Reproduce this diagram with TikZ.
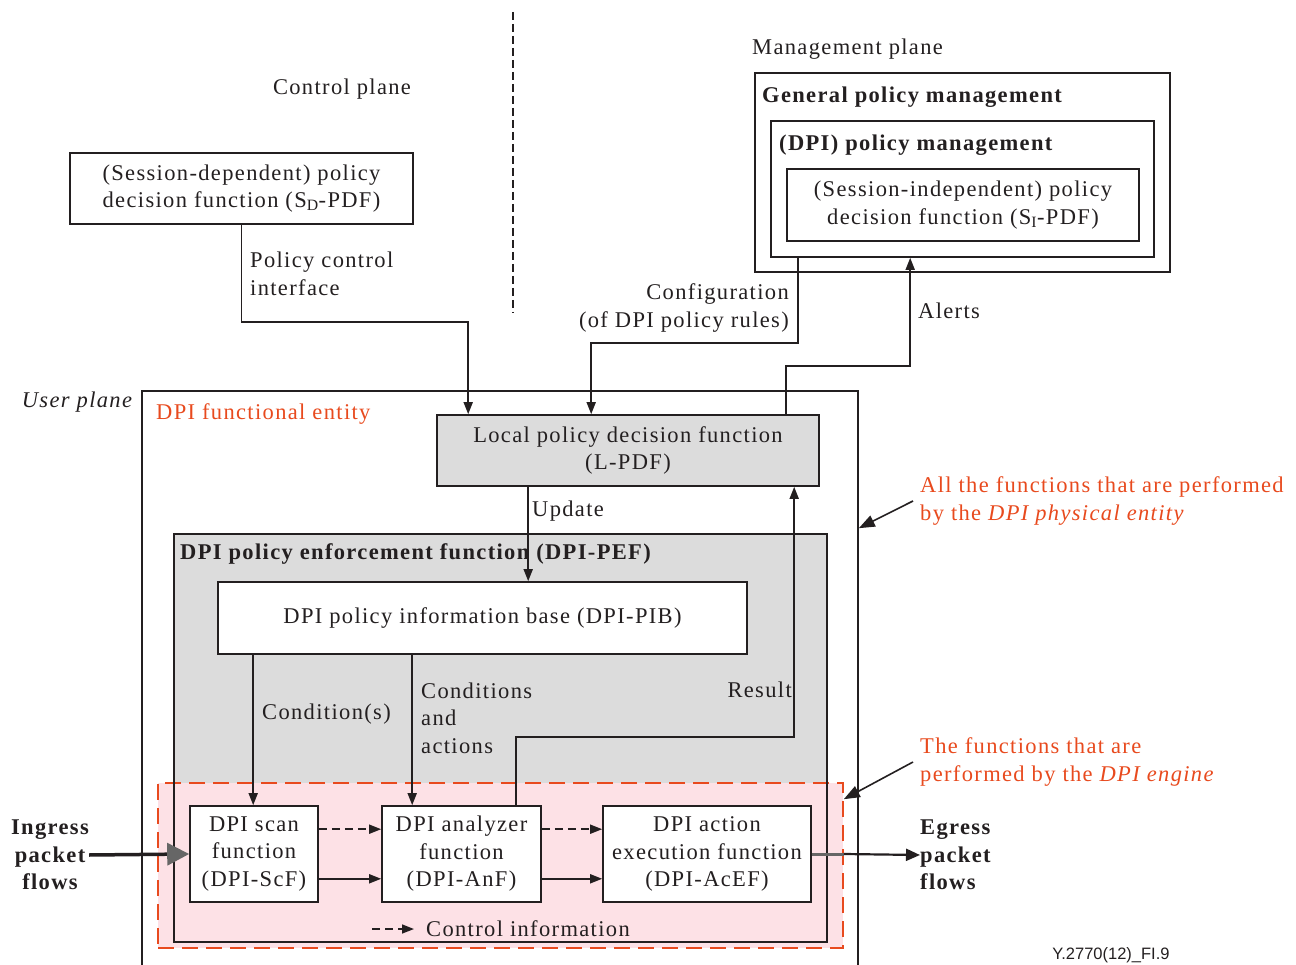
\documentclass[tikz,border=0pt]{standalone}
\usepackage{fontspec}
\setmainfont[LetterSpace=6]{Liberation Serif}
\setsansfont{Liberation Sans}
\usetikzlibrary{arrows.meta}
\definecolor{linecol}{HTML}{231F20}
\definecolor{itured}{HTML}{E84A1E}
\definecolor{boxgray}{HTML}{DCDCDC}
\definecolor{enginepink}{HTML}{FDE1E6}
\definecolor{arrgray}{HTML}{666666}
\newcommand{\dpisize}{\fontsize{22.5}{27.5}\selectfont}
\begin{document}
\begin{tikzpicture}[x=1pt,y=-1pt,
  font=\dpisize,
  every node/.style={inner sep=0pt, text=linecol},
  fnbox/.style={draw=linecol, line width=1.6pt, align=center},
  ttl/.style={font=\dpisize\bfseries},
  arr/.style={draw=linecol, line width=1.6pt, -{Triangle[length=12pt,width=9pt]}},
  notearr/.style={draw=linecol, line width=1.6pt, -{Triangle[length=16pt,width=12pt]}}]
\useasboundingbox (0,0) rectangle (1296,965);

% Control plane and management plane
\draw[linecol, line width=1.4pt, dash pattern=on 8pt off 4pt] (513,12) -- (513,313);
\node (ctrlplane) at (342,89) {Control plane};
\node[anchor=west] (mgmtplane) at (752,49) {Management plane};

\node[fnbox, minimum width=343pt, minimum height=71pt] (sdpdf) at (241.5,188.5)
  {(Session-dependent) policy\\decision function (S\textsubscript{D}-PDF)};

\node[fnbox, minimum width=415pt, minimum height=199pt] (gpm) at (962.5,172.5) {};
\node[ttl, anchor=west] (gpmtitle) at (762,97) {General policy management};
\node[fnbox, minimum width=383pt, minimum height=136pt] (dpipm) at (962.5,189) {};
\node[ttl, anchor=west] (dpipmtitle) at (779,145) {(DPI) policy management};
\node[fnbox, minimum width=352pt, minimum height=72pt] (sipdf) at (963,205)
  {(Session-independent) policy\\decision function (S\textsubscript{I}-PDF)};

% User plane: the DPI functional entity
\node[font=\dpisize\itshape] (userplane) at (77,402) {User plane};
\node[fnbox, minimum width=716pt, minimum height=609pt] (dpife) at (500,695.5) {};
\node[anchor=west, text=itured] (dpifetitle) at (156,414) {DPI functional entity};
\node[fnbox, fill=boxgray, minimum width=382pt, minimum height=71pt] (lpdf) at (628,450.5)
  {Local policy decision function\\(L-PDF)};

% Enforcement function with the DPI engine inside
\node[fill=boxgray, minimum width=653pt, minimum height=408pt] (peffill) at (500.5,738) {};
\node[draw=itured, line width=1.6pt, dash pattern=on 16pt off 8pt, fill=enginepink,
  minimum width=685pt, minimum height=165pt] (engine) at (500.5,865.5) {};
\node[fnbox, minimum width=653pt, minimum height=408pt] (pef) at (500.5,738) {};
\node[ttl, anchor=west] (peftitle) at (180,554) {DPI policy enforcement function (DPI-PEF)};
\node[fnbox, fill=white, minimum width=529pt, minimum height=72pt] (pib) at (482.5,618)
  {DPI policy information base (DPI-PIB)};

\node[fnbox, fill=white, minimum width=128pt, minimum height=96pt] (scf) at (254,854)
  {DPI scan\\function\\(DPI-ScF)};
\node[fnbox, fill=white, minimum width=159pt, minimum height=96pt] (anf) at (461.5,854)
  {DPI analyzer\\function\\(DPI-AnF)};
\node[fnbox, fill=white, minimum width=208pt, minimum height=96pt] (acef) at (707,854)
  {DPI action\\execution function\\(DPI-AcEF)};

% Interfaces between the planes
\draw[arr] (sdpdf.south) -- ++(0,97) -| ([xshift=32pt]lpdf.north west);
\node[anchor=west, align=left] (pcilabel) at (250,274) {Policy control\\interface};
\draw[arr] ([xshift=28pt]dpipm.south west) -- ++(0,85) -| ([xshift=155pt]lpdf.north west);
\node[anchor=east, align=right] (cfglabel) at (789,308) {Configuration\\(of DPI policy rules)};
\draw[arr] ([xshift=350pt]lpdf.north west) -- ++(0,-48) -| ([xshift=140pt]dpipm.south west);
\node[anchor=west] (alertlabel) at (918,311) {Alerts};

% Inside the functional entity
\draw[arr] ([xshift=92pt]lpdf.south west) -- ([xshift=311pt]pib.north west);
\node[anchor=west] (updlabel) at (532,511) {Update};
\draw[arr] ([xshift=36pt]pib.south west) -- ([xshift=64pt]scf.north west);
\node[anchor=west] (condlabel) at (262,714) {Condition(s)};
\draw[arr] ([xshift=195pt]pib.south west) -- ([xshift=31pt]anf.north west);
\node[anchor=west, align=left] (calabel) at (421,718) {Conditions\\and\\actions};
\draw[arr] ([xshift=135pt]anf.north west) -- ++(0,-68) -| ([xshift=358pt]lpdf.south west);
\node[anchor=east] (reslabel) at (792,690) {Result};

\draw[arr, dash pattern=on 8pt off 5pt] ([yshift=-24pt]scf.north east) -- ([yshift=-24pt]anf.north west);
\draw[arr] ([yshift=24pt]scf.south east) -- ([yshift=24pt]anf.south west);
\draw[arr, dash pattern=on 8pt off 5pt] ([yshift=-24pt]anf.north east) -- ([yshift=-24pt]acef.north west);
\draw[arr] ([yshift=24pt]anf.south east) -- ([yshift=24pt]acef.south west);

\node[anchor=west] (ctrlinfo) at (426,929) {Control information};
\draw[arr, dash pattern=on 8pt off 5pt] ([xshift=-54pt]ctrlinfo.west) -- ([xshift=-12pt]ctrlinfo.west);

% Packet flows
\node[ttl, align=center] (ingress) at (50,855) {Ingress\\packet\\flows};
\draw[linecol, line width=3.5pt, -{Triangle[length=22pt,width=22pt,color=arrgray]}] (ingress.east) -- (scf.west);
\node[ttl, anchor=west, align=left] (egress) at (920,855) {Egress\\packet\\flows};
\draw[arrgray, line width=3pt] (acef.east) -- (acef.east -| engine.east);
\draw[linecol, line width=2.2pt, -{Triangle[length=14pt,width=12pt]}] (acef.east -| engine.east) -- (egress.west);

% Notes
\node[anchor=west, align=left, text=itured] (physnote) at (920,501)
  {All the functions that are performed\\by the \textit{DPI physical entity}};
\draw[notearr] ([xshift=-7pt]physnote.west) -- ([yshift=-138pt]dpife.north east);
\node[anchor=west, align=left, text=itured] (enginenote) at (920,762)
  {The functions that are\\performed by the \textit{DPI engine}};
\draw[notearr] ([xshift=-7pt]enginenote.west) -- ([yshift=-17pt]engine.north east);

\node[font=\sffamily\fontsize{16.5}{19}\selectfont] (figid) at (1111,955) {Y.2770(12)\_FI.9};
\end{tikzpicture}
\end{document}
